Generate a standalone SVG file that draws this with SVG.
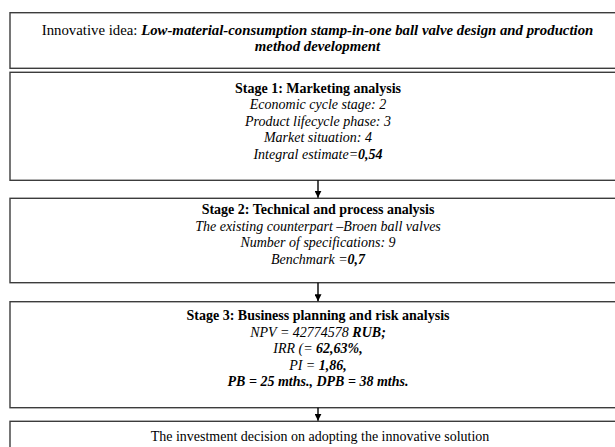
<svg xmlns="http://www.w3.org/2000/svg" width="615" height="447" viewBox="0 0 615 447">
<defs>
<style>
.box{fill:#fff;stroke:#3c3c3c;stroke-width:1.4}
.t{font-family:"Liberation Serif","Times New Roman",serif;font-size:14px;fill:#000;text-anchor:middle}
.t.big{font-size:14.8px}
.b{font-weight:bold}
.i{font-style:italic}
.bi{font-weight:bold;font-style:italic}
.conn{stroke:#000;stroke-width:1.4;fill:none}
</style>
<marker id="ah" viewBox="0 0 10 10" refX="10" refY="5" markerWidth="7" markerHeight="7" markerUnits="userSpaceOnUse" orient="auto">
<path d="M0,0 L10,5 L0,10 z" fill="#000"/>
</marker>
</defs>
<rect width="615" height="447" fill="#fff"/>
<g id="idea">
<rect class="box" x="10" y="12.7" width="620" height="55.6"/>
<text class="t big" x="317.5" y="35"><tspan>Innovative idea: </tspan><tspan class="bi">Low-material-consumption stamp-in-one ball valve design and production</tspan></text>
<text class="t big bi" x="317.5" y="51">method development</text>
</g>
<g id="stage1">
<rect class="box" x="10" y="72.3" width="620" height="108"/>
<text class="t b" x="318" y="92.5">Stage 1: Marketing analysis</text>
<text class="t i" x="318" y="109">Economic cycle stage: 2</text>
<text class="t i" x="318" y="125.5">Product lifecycle phase: 3</text>
<text class="t i" x="318" y="142">Market situation: 4</text>
<text class="t i" x="318" y="158.5"><tspan>Integral estimate=</tspan><tspan class="bi">0,54</tspan></text>
</g>
<g id="stage2">
<rect class="box" x="10" y="198.3" width="620" height="84.4"/>
<text class="t b" x="318" y="214">Stage 2: Technical and process analysis</text>
<text class="t i" x="318" y="230.5">The existing counterpart –Broen ball valves</text>
<text class="t i" x="318" y="247">Number of specifications: 9</text>
<text class="t i" x="318" y="263.5"><tspan>Benchmark =</tspan><tspan class="bi">0,7</tspan></text>
</g>
<g id="stage3">
<rect class="box" x="10" y="301.7" width="620" height="106"/>
<text class="t b" x="318" y="320">Stage 3: Business planning and risk analysis</text>
<text class="t i" x="318" y="336.5"><tspan>NPV = 42774578 </tspan><tspan class="bi">RUB;</tspan></text>
<text class="t i" x="318" y="353"><tspan>IRR (= </tspan><tspan class="bi">62,63%,</tspan></text>
<text class="t i" x="318" y="369.5"><tspan>PI = </tspan><tspan class="bi">1,86,</tspan></text>
<text class="t bi" x="318" y="386">PB = 25 mths., DPB = 38 mths.</text>
</g>
<g id="decision">
<rect class="box" x="10" y="421.3" width="620" height="40"/>
<text class="t" x="320" y="441">The investment decision on adopting the innovative solution</text>
</g>
<g id="connectors">
<line class="conn" x1="318" y1="180.3" x2="318" y2="197.8" marker-end="url(#ah)"/>
<line class="conn" x1="318" y1="282.7" x2="318" y2="301.2" marker-end="url(#ah)"/>
<line class="conn" x1="318" y1="407.7" x2="318" y2="420.8" marker-end="url(#ah)"/>
</g>
</svg>
